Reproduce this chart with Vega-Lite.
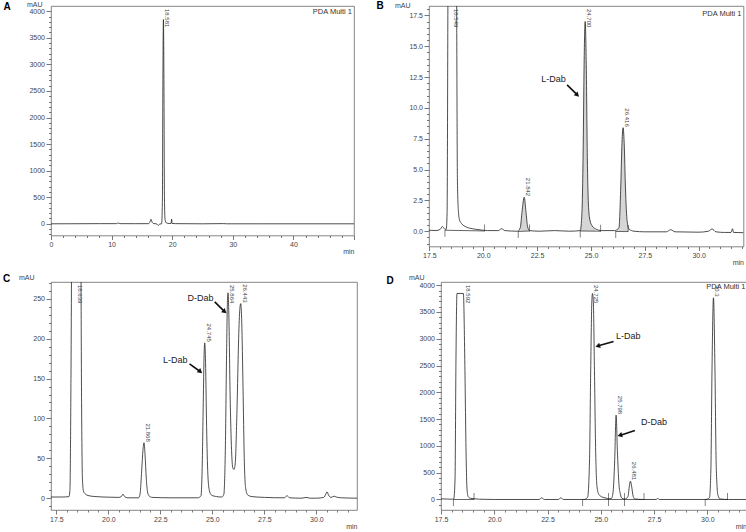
{
"$schema": "https://vega.github.io/schema/vega-lite/v6.json",
"padding": {"left": 2, "top": 0, "right": 0, "bottom": 0},
"config": {
  "view": {"stroke": "#666", "strokeWidth": 0.8},
  "font": "Liberation Sans",
  "axis": {"domain": false, "grid": false, "labelFont": "Liberation Sans", "labelFontSize": 7, "labelColor": "#444", "tickColor": "#555", "tickWidth": 0.8, "titleFont": "Liberation Sans", "titleFontSize": 7, "titleFontWeight": "normal", "titleColor": "#444", "labelOverlap": false, "labelFlush": false, "labelBound": false}
},
"datasets": {
  "lineA": [{"t":0,"v":0},{"t":3,"v":1},{"t":8,"v":3},{"t":10.8,"v":3},{"t":11.1,"v":15},{"t":11.4,"v":3},{"t":14,"v":2},{"t":16.1,"v":3},{"t":16.35,"v":40},{"t":16.5,"v":85},{"t":16.65,"v":40},{"t":16.9,"v":5},{"t":17.4,"v":0},{"t":17.7,"v":-30},{"t":17.95,"v":-5},{"t":18.25,"v":0},{"t":18.38,"v":400},{"t":18.46,"v":2600},{"t":18.55,"v":3843},{"t":18.64,"v":2600},{"t":18.72,"v":500},{"t":18.82,"v":80},{"t":19.0,"v":20},{"t":19.5,"v":5},{"t":19.82,"v":8},{"t":19.9,"v":90},{"t":19.98,"v":8},{"t":20.5,"v":3},{"t":25,"v":0},{"t":28.5,"v":4},{"t":29,"v":0},{"t":35,"v":0},{"t":50,"v":0}],
  "peaksA": [{"t":18.55,"h":3843,"label":"18.581"}],
  "lineB": [{"t":17.48,"v":0.08},{"t":17.8,"v":0.05},{"t":18.0,"v":0.15},{"t":18.1,"v":0.38},{"t":18.2,"v":0.2},{"t":18.28,"v":0.15},{"t":18.32,"v":1.5},{"t":18.36,"v":20},{"t":18.45,"v":60},{"t":18.55,"v":80},{"t":18.65,"v":60},{"t":18.76,"v":20},{"t":18.8,"v":4},{"t":18.85,"v":1.5},{"t":18.9,"v":0.9},{"t":19.0,"v":0.6},{"t":19.2,"v":0.35},{"t":19.5,"v":0.2},{"t":19.8,"v":0.12},{"t":20.2,"v":0.05},{"t":20.7,"v":0.05},{"t":20.85,"v":0.2},{"t":21.0,"v":0.05},{"t":21.6,"v":0.0},{"t":21.72,"v":0.3},{"t":21.8,"v":1.6},{"t":21.9,"v":2.76},{"t":21.98,"v":1.6},{"t":22.06,"v":0.35},{"t":22.15,"v":0.05},{"t":22.6,"v":0},{"t":23.3,"v":0.05},{"t":24.0,"v":0},{"t":24.5,"v":0.05},{"t":24.58,"v":1.5},{"t":24.64,"v":7},{"t":24.68,"v":13.5},{"t":24.73,"v":17.0},{"t":24.78,"v":13.5},{"t":24.83,"v":6},{"t":24.88,"v":2.2},{"t":24.95,"v":0.9},{"t":25.05,"v":0.45},{"t":25.2,"v":0.2},{"t":25.5,"v":0.05},{"t":26.1,"v":0.05},{"t":26.2,"v":0.12},{"t":26.3,"v":0.3},{"t":26.38,"v":3.5},{"t":26.44,"v":7.2},{"t":26.49,"v":8.39},{"t":26.54,"v":7.2},{"t":26.6,"v":3.5},{"t":26.68,"v":0.8},{"t":26.78,"v":0.15},{"t":27,"v":0},{"t":27.5,"v":-0.05},{"t":28.5,"v":-0.05},{"t":28.7,"v":0.12},{"t":28.9,"v":-0.05},{"t":30.0,"v":-0.08},{"t":30.45,"v":0},{"t":30.62,"v":0.18},{"t":30.8,"v":-0.05},{"t":31.2,"v":-0.1},{"t":31.5,"v":-0.1},{"t":31.57,"v":0.2},{"t":31.62,"v":-0.1},{"t":32.08,"v":-0.12}],
  "peaksB": [{"t":18.55,"h":80,"label":"18.549"},{"t":21.9,"h":2.76,"label":"21.842"},{"t":24.73,"h":17.0,"label":"24.700"},{"t":26.49,"h":8.39,"label":"26.416"}],
  "baseB": [{"t":18.22,"v":0.08,"t2":20.05,"v2":0.02},{"t":21.62,"v":-0.02,"t2":22.15,"v2":0.02},{"t":24.5,"v":0.02,"t2":25.45,"v2":0.0},{"t":26.15,"v":-0.02,"t2":26.72,"v2":-0.03}],
  "arrowB": [{"t":23.89,"v":11.87,"t2":24.34,"v2":11.09}],
  "textB": [{"t":23.26,"v":12.38,"text":"L-Dab"}],
  "lineC": [{"t":17.24,"v":1.5},{"t":17.8,"v":1.5},{"t":18.1,"v":2},{"t":18.15,"v":10},{"t":18.2,"v":150},{"t":18.25,"v":400},{"t":18.45,"v":700},{"t":18.66,"v":400},{"t":18.71,"v":120},{"t":18.75,"v":25},{"t":18.8,"v":9},{"t":18.9,"v":5},{"t":19.02,"v":3.4},{"t":19.3,"v":2.2},{"t":19.98,"v":1.3},{"t":20.5,"v":1},{"t":20.62,"v":2},{"t":20.7,"v":5},{"t":20.78,"v":2},{"t":20.9,"v":0.5},{"t":21.45,"v":0.5},{"t":21.52,"v":5},{"t":21.6,"v":35},{"t":21.66,"v":60},{"t":21.71,"v":69.5},{"t":21.76,"v":55},{"t":21.82,"v":25},{"t":21.88,"v":8},{"t":21.95,"v":3},{"t":22.1,"v":1},{"t":23,"v":0.5},{"t":24.3,"v":0.5},{"t":24.45,"v":3},{"t":24.5,"v":30},{"t":24.56,"v":120},{"t":24.6,"v":180},{"t":24.63,"v":194.8},{"t":24.67,"v":170},{"t":24.72,"v":90},{"t":24.78,"v":30},{"t":24.85,"v":10},{"t":24.95,"v":4},{"t":25.2,"v":2},{"t":25.45,"v":1.5},{"t":25.55,"v":5},{"t":25.62,"v":60},{"t":25.68,"v":180},{"t":25.72,"v":245},{"t":25.75,"v":257.5},{"t":25.79,"v":230},{"t":25.85,"v":130},{"t":25.92,"v":60},{"t":25.98,"v":38},{"t":26.04,"v":36},{"t":26.1,"v":45},{"t":26.18,"v":110},{"t":26.26,"v":200},{"t":26.32,"v":238},{"t":26.36,"v":244},{"t":26.41,"v":220},{"t":26.47,"v":140},{"t":26.53,"v":50},{"t":26.6,"v":12},{"t":26.7,"v":4},{"t":26.9,"v":2},{"t":27.5,"v":1},{"t":28.45,"v":0.5},{"t":28.59,"v":3},{"t":28.72,"v":0.5},{"t":29.3,"v":0},{"t":29.5,"v":1},{"t":29.7,"v":0},{"t":30.0,"v":0},{"t":30.35,"v":1},{"t":30.45,"v":5},{"t":30.51,"v":8},{"t":30.58,"v":4},{"t":30.7,"v":1},{"t":30.85,"v":2.5},{"t":30.95,"v":1.5},{"t":31.2,"v":0.5},{"t":31.95,"v":0}],
  "peaksC": [{"t":18.45,"h":700,"label":"18.639"},{"t":21.71,"h":69.5,"label":"21.868"},{"t":24.63,"h":194.8,"label":"24.745"},{"t":25.75,"h":257.5,"label":"25.864"},{"t":26.36,"h":244,"label":"26.443"}],
  "arrowC": [{"t":23.9,"v":168.5,"t2":24.39,"v2":159.2},{"t":25.11,"v":246.2,"t2":25.56,"v2":234.5}],
  "textC": [{"t":23.21,"v":173,"text":"L-Dab"},{"t":24.43,"v":251.2,"text":"D-Dab"}],
  "lineD": [{"t":17.5,"v":12},{"t":17.8,"v":8},{"t":18.0,"v":5},{"t":18.1,"v":15},{"t":18.16,"v":400},{"t":18.2,"v":2500},{"t":18.25,"v":3845},{"t":18.55,"v":3845},{"t":18.62,"v":2500},{"t":18.68,"v":800},{"t":18.72,"v":200},{"t":18.78,"v":50},{"t":18.9,"v":20},{"t":19.05,"v":15},{"t":19.3,"v":5},{"t":20,"v":0},{"t":22.1,"v":0},{"t":22.23,"v":30},{"t":22.35,"v":0},{"t":23.0,"v":0},{"t":23.13,"v":30},{"t":23.25,"v":0},{"t":24.2,"v":0},{"t":24.38,"v":40},{"t":24.47,"v":700},{"t":24.53,"v":2500},{"t":24.58,"v":3700},{"t":24.61,"v":3845},{"t":24.65,"v":3700},{"t":24.7,"v":2500},{"t":24.76,"v":900},{"t":24.82,"v":250},{"t":24.9,"v":100},{"t":25.0,"v":60},{"t":25.2,"v":30},{"t":25.4,"v":15},{"t":25.5,"v":20},{"t":25.58,"v":150},{"t":25.65,"v":700},{"t":25.72,"v":1574},{"t":25.78,"v":900},{"t":25.85,"v":300},{"t":25.92,"v":100},{"t":26.0,"v":20},{"t":26.15,"v":10},{"t":26.28,"v":60},{"t":26.34,"v":250},{"t":26.39,"v":342},{"t":26.45,"v":240},{"t":26.52,"v":60},{"t":26.6,"v":10},{"t":27.0,"v":0},{"t":27.6,"v":0},{"t":27.67,"v":20},{"t":27.75,"v":0},{"t":29.9,"v":0},{"t":30.1,"v":30},{"t":30.17,"v":600},{"t":30.22,"v":2400},{"t":30.29,"v":3764},{"t":30.36,"v":2400},{"t":30.42,"v":600},{"t":30.5,"v":80},{"t":30.6,"v":10},{"t":31.0,"v":0},{"t":31.84,"v":0}],
  "peaksD": [{"t":18.56,"h":3845,"label":"18.592"},{"t":24.61,"h":3845,"label":"24.725"},{"t":25.72,"h":1574,"label":"25.798"},{"t":26.39,"h":342,"label":"26.481"},{"t":30.29,"h":3764,"label":"30.3"}],
  "baseD": [{"t":18.08,"v":0,"t2":19.05,"v2":0},{"t":24.15,"v":0,"t2":25.36,"v2":0},{"t":25.36,"v":0,"t2":26.11,"v2":0},{"t":26.11,"v":0,"t2":27.03,"v2":0},{"t":29.9,"v":0,"t2":30.95,"v2":0}],
  "arrowD": [{"t":25.6,"v":2949,"t2":24.89,"v2":2869},{"t":26.6,"v":1288,"t2":25.93,"v2":1200}],
  "textD": [{"t":26.29,"v":3048,"text":"L-Dab"},{"t":27.5,"v":1443,"text":"D-Dab"}]
},
"spacing": 7,
"vconcat": [
 {"hconcat": [
  {"width": 303, "height": 229.5,
   "title": {"text": "A", "anchor": "start", "frame": "group", "offset": 0, "dx": -47.5, "dy": 21.2, "baseline": "bottom", "fontSize": 10, "fontWeight": "bold", "font": "Liberation Sans", "color": "#000"},
   "resolve": {"axis": {"x": "independent", "y": "independent"}},
   "layer": [
    {"data": {"name": "lineA"}, "mark": {"type": "line", "color": "#222", "strokeWidth": 0.8, "clip": true, "interpolate": "monotone"},
     "encoding": {
      "x": {"field": "t", "type": "quantitative", "scale": {"domain": [0, 50], "nice": false, "zero": false},
            "axis": {"orient": "bottom", "title": "min", "values": [0,10,20,30,40,50], "labelExpr": "datum.value < 50 ? format(datum.value, 'd') : ''", "tickSize": 4, "labelPadding": 1, "labelOverlap": false, "labelFlush": false, "titleX": 303, "titleY": 16, "titleAlign": "right", "titleBaseline": "middle"}},
      "y": {"field": "v", "type": "quantitative", "scale": {"domain": [-220, 4098], "nice": false, "zero": false},
            "axis": {"orient": "left", "title": "mAU", "values": [0,500,1000,1500,2000,2500,3000,3500,4000], "format": "d", "tickSize": 5, "labelPadding": 1.5, "labelOverlap": false, "titleAngle": 0, "titleX": -9, "titleY": -1.5, "titleAlign": "right", "titleBaseline": "middle"}}
     }},
    {"data": {"name": "lineA"}, "mark": {"type": "point", "opacity": 0, "clip": true},
     "encoding": {
      "x": {"field": "t", "type": "quantitative", "axis": {"orient": "bottom", "title": null, "labels": false, "values": [2,4,6,8,12,14,16,18,22,24,26,28,32,34,36,38,42,44,46,48], "tickSize": 2}},
      "y": {"field": "v", "type": "quantitative", "axis": {"orient": "left", "title": null, "labels": false, "values": [-200,-100,100,200,300,400,600,700,800,900,1100,1200,1300,1400,1600,1700,1800,1900,2100,2200,2300,2400,2600,2700,2800,2900,3100,3200,3300,3400,3600,3700,3800,3900], "tickSize": 2.5}}
     }},
    {"data": {"name": "peaksA"}, "transform": [{"filter": "datum.h > 3680"}], "mark": {"type": "text", "angle": 90, "align": "left", "baseline": "alphabetic", "dx": 3, "dy": -2, "fontSize": 6, "color": "#444"},
     "encoding": {"x": {"field": "t", "type": "quantitative", "axis": null}, "y": {"datum": 4098, "axis": null}, "text": {"field": "label"}}},
    {"data": {"values": [{}]}, "mark": {"type": "text", "text": "PDA Multi 1", "align": "right", "baseline": "top", "dx": -2, "dy": 2, "fontSize": 7.5, "color": "#333"},
     "encoding": {"x": {"datum": 50, "axis": null}, "y": {"datum": 4098, "axis": null}}}
   ]},
  {"width": 314.5, "height": 240.5,
   "title": {"text": "B", "anchor": "start", "frame": "group", "offset": 0, "dx": -52.5, "dy": 20.2, "baseline": "bottom", "fontSize": 10, "fontWeight": "bold", "font": "Liberation Sans", "color": "#000"},
   "resolve": {"axis": {"x": "independent", "y": "independent"}},
   "layer": [
    {"data": {"name": "lineB"}, "transform": [{"filter": "datum.t >= 21.7 && datum.t <= 22.15"}], "mark": {"type": "area", "color": "#d6d6d6", "clip": true, "interpolate": "monotone"},
     "encoding": {"x": {"field": "t", "type": "quantitative", "axis": null}, "y": {"field": "v", "type": "quantitative", "axis": null}, "y2": {"datum": 0}}},
    {"data": {"name": "lineB"}, "transform": [{"filter": "datum.t >= 24.5 && datum.t <= 25.45"}], "mark": {"type": "area", "color": "#d6d6d6", "clip": true, "interpolate": "monotone"},
     "encoding": {"x": {"field": "t", "type": "quantitative", "axis": null}, "y": {"field": "v", "type": "quantitative", "axis": null}, "y2": {"datum": 0}}},
    {"data": {"name": "lineB"}, "transform": [{"filter": "datum.t >= 26.2 && datum.t <= 26.78"}], "mark": {"type": "area", "color": "#d6d6d6", "clip": true, "interpolate": "monotone"},
     "encoding": {"x": {"field": "t", "type": "quantitative", "axis": null}, "y": {"field": "v", "type": "quantitative", "axis": null}, "y2": {"datum": 0}}},
    {"data": {"name": "baseB"}, "mark": {"type": "rule", "color": "#222", "strokeWidth": 0.7},
     "encoding": {"x": {"field": "t", "type": "quantitative", "axis": null}, "y": {"field": "v", "type": "quantitative", "axis": null}, "x2": {"field": "t2"}, "y2": {"field": "v2"}}},
    {"data": {"name": "baseB"}, "mark": {"type": "tick", "orient": "vertical", "size": 7, "thickness": 0.8, "color": "#222", "yOffset": 3},
     "encoding": {"x": {"field": "t", "type": "quantitative", "axis": null}, "y": {"field": "v", "type": "quantitative", "axis": null}}},
    {"data": {"name": "baseB"}, "mark": {"type": "tick", "orient": "vertical", "size": 7, "thickness": 0.8, "color": "#222", "yOffset": -3},
     "encoding": {"x": {"field": "t2", "type": "quantitative", "axis": null}, "y": {"field": "v2", "type": "quantitative", "axis": null}}},
    {"data": {"name": "lineB"}, "mark": {"type": "line", "color": "#222", "strokeWidth": 0.8, "clip": true, "interpolate": "monotone"},
     "encoding": {
      "x": {"field": "t", "type": "quantitative", "scale": {"domain": [17.48, 32.08], "nice": false, "zero": false},
            "axis": {"orient": "bottom", "title": "min", "values": [17.5,20,22.5,25,27.5,30], "format": ".1f", "tickSize": 4, "labelPadding": 1, "labelOverlap": false, "labelFlush": false, "titleX": 314.5, "titleY": 16, "titleAlign": "right", "titleBaseline": "middle"}},
      "y": {"field": "v", "type": "quantitative", "scale": {"domain": [-1.24, 18.26], "nice": false, "zero": false},
            "axis": {"orient": "left", "title": "mAU", "values": [0,2.5,5,7.5,10,12.5,15,17.5], "format": ".1f", "tickSize": 5, "labelPadding": 1.5, "labelOverlap": false, "titleAngle": 0, "titleX": -19, "titleY": -1, "titleAlign": "right", "titleBaseline": "middle"}}
     }},
    {"data": {"name": "lineB"}, "mark": {"type": "point", "opacity": 0, "clip": true},
     "encoding": {
      "x": {"field": "t", "type": "quantitative", "axis": {"orient": "bottom", "title": null, "labels": false, "values": [18,18.5,19,19.5,20.5,21,21.5,22,23,23.5,24,24.5,25.5,26,26.5,27,28,28.5,29,29.5,30.5,31,31.5,32], "tickSize": 2}},
      "y": {"field": "v", "type": "quantitative", "axis": {"orient": "left", "title": null, "labels": false, "values": [-1,-0.5,0.5,1,1.5,2,3,3.5,4,4.5,5.5,6,6.5,7,8,8.5,9,9.5,10.5,11,11.5,12,13,13.5,14,14.5,15.5,16,16.5,17,18], "tickSize": 2.5}}
     }},
    {"data": {"name": "peaksB"}, "transform": [{"filter": "datum.h <= 16.5"}], "mark": {"type": "text", "angle": 90, "align": "right", "baseline": "alphabetic", "dx": -1, "dy": -2, "fontSize": 6, "color": "#444"},
     "encoding": {"x": {"field": "t", "type": "quantitative", "axis": null}, "y": {"field": "h", "type": "quantitative", "axis": null}, "text": {"field": "label"}}},
    {"data": {"name": "peaksB"}, "transform": [{"filter": "datum.h > 16.5"}], "mark": {"type": "text", "angle": 90, "align": "left", "baseline": "alphabetic", "dx": 3, "dy": -2, "fontSize": 6, "color": "#444"},
     "encoding": {"x": {"field": "t", "type": "quantitative", "axis": null}, "y": {"datum": 18.26, "axis": null}, "text": {"field": "label"}}},
    {"data": {"name": "arrowB"}, "mark": {"type": "rule", "color": "#111", "strokeWidth": 1.6},
     "encoding": {"x": {"field": "t", "type": "quantitative", "axis": null}, "y": {"field": "v", "type": "quantitative", "axis": null}, "x2": {"field": "t2"}, "y2": {"field": "v2"}}},
    {"data": {"name": "arrowB"}, "mark": {"type": "point", "shape": "triangle", "filled": true, "size": 30, "angle": 135, "color": "#111", "opacity": 1},
     "encoding": {"x": {"field": "t2", "type": "quantitative", "axis": null}, "y": {"field": "v2", "type": "quantitative", "axis": null}}},
    {"data": {"name": "textB"}, "mark": {"type": "text", "fontSize": 9, "color": "#222", "align": "center", "baseline": "middle"},
     "encoding": {"x": {"field": "t", "type": "quantitative", "axis": null}, "y": {"field": "v", "type": "quantitative", "axis": null}, "text": {"field": "text"}}},
    {"data": {"values": [{}]}, "mark": {"type": "text", "text": "PDA Multi 1", "align": "right", "baseline": "top", "dx": -2, "dy": 4, "fontSize": 7.5, "color": "#333"},
     "encoding": {"x": {"datum": 32.08, "axis": null}, "y": {"datum": 18.26, "axis": null}}}
   ]}
 ], "spacing": 75, "bounds": "flush"},
 {"hconcat": [
  {"width": 306, "height": 228,
   "title": {"text": "C", "anchor": "start", "frame": "group", "offset": 0, "dx": -48, "dy": 20.7, "baseline": "bottom", "fontSize": 10, "fontWeight": "bold", "font": "Liberation Sans", "color": "#000"},
   "resolve": {"axis": {"x": "independent", "y": "independent"}},
   "layer": [
    {"data": {"name": "lineC"}, "mark": {"type": "line", "color": "#222", "strokeWidth": 0.8, "clip": true, "interpolate": "monotone"},
     "encoding": {
      "x": {"field": "t", "type": "quantitative", "scale": {"domain": [17.24, 31.95], "nice": false, "zero": false},
            "axis": {"orient": "bottom", "title": "min", "values": [17.5,20,22.5,25,27.5,30], "format": ".1f", "tickSize": 4, "labelPadding": 1, "labelOverlap": false, "labelFlush": false, "titleX": 306, "titleY": 16, "titleAlign": "right", "titleBaseline": "middle"}},
      "y": {"field": "v", "type": "quantitative", "scale": {"domain": [-14.8, 271.1], "nice": false, "zero": false},
            "axis": {"orient": "left", "title": "mAU", "values": [0,50,100,150,200,250], "format": "d", "tickSize": 5, "labelPadding": 1.5, "labelOverlap": false, "titleAngle": 0, "titleX": -17, "titleY": -4.5, "titleAlign": "right", "titleBaseline": "middle"}}
     }},
    {"data": {"name": "lineC"}, "mark": {"type": "point", "opacity": 0, "clip": true},
     "encoding": {
      "x": {"field": "t", "type": "quantitative", "axis": {"orient": "bottom", "title": null, "labels": false, "values": [18,18.5,19,19.5,20.5,21,21.5,22,23,23.5,24,24.5,25.5,26,26.5,27,28,28.5,29,29.5,30.5,31,31.5], "tickSize": 2}},
      "y": {"field": "v", "type": "quantitative", "axis": {"orient": "left", "title": null, "labels": false, "values": [-10,10,20,30,40,60,70,80,90,110,120,130,140,160,170,180,190,210,220,230,240,260,270], "tickSize": 2.5}}
     }},
    {"data": {"name": "peaksC"}, "transform": [{"filter": "datum.h <= 250"}], "mark": {"type": "text", "angle": 90, "align": "right", "baseline": "alphabetic", "dx": -1, "dy": -2, "fontSize": 6, "color": "#444"},
     "encoding": {"x": {"field": "t", "type": "quantitative", "axis": null}, "y": {"field": "h", "type": "quantitative", "axis": null}, "text": {"field": "label"}}},
    {"data": {"name": "peaksC"}, "transform": [{"filter": "datum.h > 250"}], "mark": {"type": "text", "angle": 90, "align": "left", "baseline": "alphabetic", "dx": 3, "dy": -2, "fontSize": 6, "color": "#444"},
     "encoding": {"x": {"field": "t", "type": "quantitative", "axis": null}, "y": {"datum": 271.1, "axis": null}, "text": {"field": "label"}}},
    {"data": {"name": "arrowC"}, "mark": {"type": "rule", "color": "#111", "strokeWidth": 1.6},
     "encoding": {"x": {"field": "t", "type": "quantitative", "axis": null}, "y": {"field": "v", "type": "quantitative", "axis": null}, "x2": {"field": "t2"}, "y2": {"field": "v2"}}},
    {"data": {"name": "arrowC"}, "mark": {"type": "point", "shape": "triangle", "filled": true, "size": 30, "angle": 130, "color": "#111", "opacity": 1},
     "encoding": {"x": {"field": "t2", "type": "quantitative", "axis": null}, "y": {"field": "v2", "type": "quantitative", "axis": null}}},
    {"data": {"name": "textC"}, "mark": {"type": "text", "fontSize": 9, "color": "#222", "align": "center", "baseline": "middle"},
     "encoding": {"x": {"field": "t", "type": "quantitative", "axis": null}, "y": {"field": "v", "type": "quantitative", "axis": null}, "text": {"field": "text"}}}
   ]},
  {"width": 305.5, "height": 228,
   "title": {"text": "D", "anchor": "start", "frame": "group", "offset": 0, "dx": -54.5, "dy": 22.3, "baseline": "bottom", "fontSize": 10, "fontWeight": "bold", "font": "Liberation Sans", "color": "#000"},
   "resolve": {"axis": {"x": "independent", "y": "independent"}},
   "layer": [
    {"data": {"name": "baseD"}, "mark": {"type": "rule", "color": "#222", "strokeWidth": 0.7},
     "encoding": {"x": {"field": "t", "type": "quantitative", "axis": null}, "y": {"field": "v", "type": "quantitative", "axis": null}, "x2": {"field": "t2"}, "y2": {"field": "v2"}}},
    {"data": {"name": "baseD"}, "mark": {"type": "tick", "orient": "vertical", "size": 7, "thickness": 0.8, "color": "#222", "yOffset": 3},
     "encoding": {"x": {"field": "t", "type": "quantitative", "axis": null}, "y": {"field": "v", "type": "quantitative", "axis": null}}},
    {"data": {"name": "baseD"}, "mark": {"type": "tick", "orient": "vertical", "size": 7, "thickness": 0.8, "color": "#222", "yOffset": -3},
     "encoding": {"x": {"field": "t2", "type": "quantitative", "axis": null}, "y": {"field": "v2", "type": "quantitative", "axis": null}}},
    {"data": {"name": "lineD"}, "mark": {"type": "line", "color": "#222", "strokeWidth": 0.8, "clip": true, "interpolate": "monotone"},
     "encoding": {
      "x": {"field": "t", "type": "quantitative", "scale": {"domain": [17.5, 31.84], "nice": false, "zero": false},
            "axis": {"orient": "bottom", "title": "min", "values": [17.5,20,22.5,25,27.5,30], "format": ".1f", "tickSize": 4, "labelPadding": 1, "labelOverlap": false, "labelFlush": false, "titleX": 305.5, "titleY": 16, "titleAlign": "right", "titleBaseline": "middle"}},
      "y": {"field": "v", "type": "quantitative", "scale": {"domain": [-196, 4059], "nice": false, "zero": false},
            "axis": {"orient": "left", "title": "mAU", "values": [0,500,1000,1500,2000,2500,3000,3500,4000], "format": "d", "tickSize": 5, "labelPadding": 1.5, "labelOverlap": false, "titleAngle": 0, "titleX": -17, "titleY": -4.5, "titleAlign": "right", "titleBaseline": "middle"}}
     }},
    {"data": {"name": "lineD"}, "mark": {"type": "point", "opacity": 0, "clip": true},
     "encoding": {
      "x": {"field": "t", "type": "quantitative", "axis": {"orient": "bottom", "title": null, "labels": false, "values": [18,18.5,19,19.5,20.5,21,21.5,22,23,23.5,24,24.5,25.5,26,26.5,27,28,28.5,29,29.5,30.5,31,31.5], "tickSize": 2}},
      "y": {"field": "v", "type": "quantitative", "axis": {"orient": "left", "title": null, "labels": false, "values": [-100,100,200,300,400,600,700,800,900,1100,1200,1300,1400,1600,1700,1800,1900,2100,2200,2300,2400,2600,2700,2800,2900,3100,3200,3300,3400,3600,3700,3800,3900], "tickSize": 2.5}}
     }},
    {"data": {"name": "peaksD"}, "transform": [{"filter": "datum.h <= 3650"}], "mark": {"type": "text", "angle": 90, "align": "right", "baseline": "alphabetic", "dx": -1, "dy": -2, "fontSize": 6, "color": "#444"},
     "encoding": {"x": {"field": "t", "type": "quantitative", "axis": null}, "y": {"field": "h", "type": "quantitative", "axis": null}, "text": {"field": "label"}}},
    {"data": {"name": "peaksD"}, "transform": [{"filter": "datum.h > 3650"}], "mark": {"type": "text", "angle": 90, "align": "left", "baseline": "alphabetic", "dx": 3, "dy": -2, "fontSize": 6, "color": "#444"},
     "encoding": {"x": {"field": "t", "type": "quantitative", "axis": null}, "y": {"datum": 4059, "axis": null}, "text": {"field": "label"}}},
    {"data": {"name": "arrowD"}, "mark": {"type": "rule", "color": "#111", "strokeWidth": 1.6},
     "encoding": {"x": {"field": "t", "type": "quantitative", "axis": null}, "y": {"field": "v", "type": "quantitative", "axis": null}, "x2": {"field": "t2"}, "y2": {"field": "v2"}}},
    {"data": {"name": "arrowD"}, "mark": {"type": "point", "shape": "triangle", "filled": true, "size": 30, "angle": 253, "color": "#111", "opacity": 1},
     "encoding": {"x": {"field": "t2", "type": "quantitative", "axis": null}, "y": {"field": "v2", "type": "quantitative", "axis": null}}},
    {"data": {"name": "textD"}, "mark": {"type": "text", "fontSize": 9, "color": "#222", "align": "center", "baseline": "middle"},
     "encoding": {"x": {"field": "t", "type": "quantitative", "axis": null}, "y": {"field": "v", "type": "quantitative", "axis": null}, "text": {"field": "text"}}},
    {"data": {"values": [{}]}, "mark": {"type": "text", "text": "PDA Multi 1", "align": "right", "baseline": "top", "dx": -1, "dy": 1, "fontSize": 7.5, "color": "#333"},
     "encoding": {"x": {"datum": 31.84, "axis": null}, "y": {"datum": 4059, "axis": null}}}
   ]}
 ], "spacing": 84, "bounds": "flush"}
]
}
